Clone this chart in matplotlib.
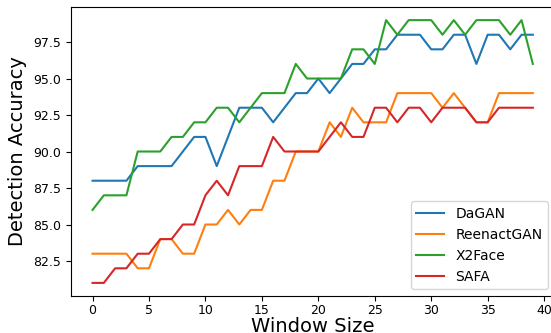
import matplotlib
matplotlib.use("Agg")
import matplotlib.pyplot as plt

window = list(range(40))

dagan = [88, 88, 88, 88, 89, 89, 89, 89, 90, 91, 91, 89, 91, 93, 93, 93, 92, 93, 94, 94,
         95, 94, 95, 96, 96, 97, 97, 98, 98, 98, 97, 97, 98, 98, 96, 98, 98, 97, 98, 98]
reenactgan = [83, 83, 83, 83, 82, 82, 84, 84, 83, 83, 85, 85, 86, 85, 86, 86, 88, 88, 90, 90,
              90, 92, 91, 93, 92, 92, 92, 94, 94, 94, 94, 93, 94, 93, 92, 92, 94, 94, 94, 94]
x2face = [86, 87, 87, 87, 90, 90, 90, 91, 91, 92, 92, 93, 93, 92, 93, 94, 94, 94, 96, 95,
          95, 95, 95, 97, 97, 96, 99, 98, 99, 99, 99, 98, 99, 98, 99, 99, 99, 98, 99, 96]
safa = [81, 81, 82, 82, 83, 83, 84, 84, 85, 85, 87, 88, 87, 89, 89, 89, 91, 90, 90, 90,
        90, 91, 92, 91, 91, 93, 93, 92, 93, 93, 92, 93, 93, 93, 92, 92, 93, 93, 93, 93]

fig = plt.figure(figsize=(5.51, 3.33), dpi=100)
ax = fig.add_subplot()
# axes runs slightly past the right edge, as in the source image
fig.subplots_adjust(left=0.128, right=1.007, top=0.979, bottom=0.111)

ax.plot(window, dagan, label="DaGAN")
ax.plot(window, reenactgan, label="ReenactGAN")
ax.plot(window, x2face, label="X2Face")
ax.plot(window, safa, label="SAFA")

ax.set_xlabel("Window Size", fontsize=14, labelpad=0)
ax.set_ylabel("Detection Accuracy", fontsize=14)
ax.tick_params(labelsize=9)
ax.tick_params(axis="x", pad=2.5)
ax.legend(loc="lower right", fontsize=10)

fig.savefig("out.png", dpi=100)
